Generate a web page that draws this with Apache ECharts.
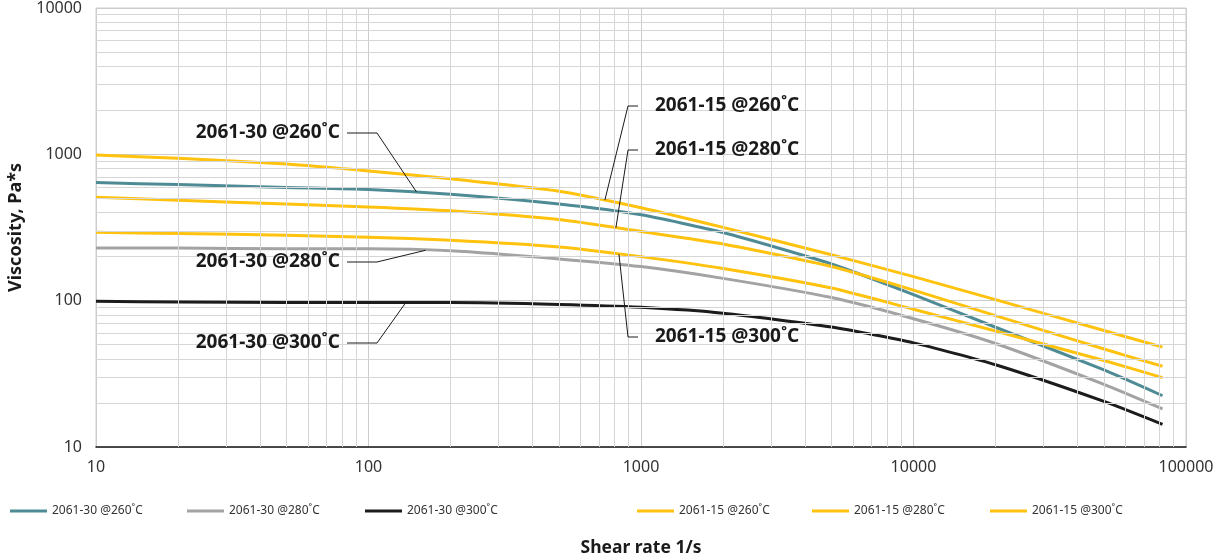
<!DOCTYPE html>
<html>
<head>
<meta charset="utf-8">
<script src="https://cdn.jsdelivr.net/npm/echarts@6/dist/echarts.min.js"></script>
<style>
html,body{margin:0;padding:0;background:#fff;}
#main{width:1221px;height:560px;}
</style>
</head>
<body>
<div id="main"></div>
<script>
// ---- data ----
const shearRate = [10, 20, 50, 100, 200, 500, 1000, 2000, 5000, 10000, 20000, 50000, 82000];
const visc30_260 = [641, 621, 593, 575, 533, 457, 386, 292, 178, 110, 65.8, 33.6, 22.4];
const visc30_280 = [229, 229, 226, 226, 219, 193, 171, 142, 105, 75.3, 51, 26.8, 18.2];
const visc30_300 = [99, 98, 97, 97, 97, 94.2, 90, 82, 66, 51.5, 36.5, 20.5, 14.3];
const visc15_260 = [990, 940, 858, 770, 681, 560, 432, 317, 206, 146, 101.6, 62.5, 48.1];
const visc15_280 = [509, 486, 457, 437, 411, 358, 297, 244, 171, 118, 79, 46.7, 35.6];
const visc15_300 = [293, 288, 280, 271, 259, 233, 200, 166, 122, 87.4, 62, 39, 29.8];
const seriesNames = ['2061-30 @260˚C', '2061-30 @280˚C', '2061-30 @300˚C',
                     '2061-15 @260˚C', '2061-15 @280˚C', '2061-15 @300˚C'];
const xTickLabels = [10, 100, 1000, 10000, 100000];
const yTickLabels = [10, 100, 1000, 10000];
const xAxisTitle = 'Shear rate 1/s';
const yAxisTitle = 'Viscosity, Pa*s';
// annotation: label text, the point on the curve the leader points to
const annotations = [
  {text: '2061-30 @260˚C', at: [150, 553], side: 'left', ty: 133},
  {text: '2061-30 @280˚C', at: [162, 221], side: 'left', ty: 262},
  {text: '2061-30 @300˚C', at: [137, 97], side: 'left', ty: 343},
  {text: '2061-15 @260˚C', at: [737, 487], side: 'right', ty: 106},
  {text: '2061-15 @280˚C', at: [809, 315], side: 'right', ty: 150},
  {text: '2061-15 @300˚C', at: [830, 208], side: 'right', ty: 337}
];

const colors = ['#4e8b94', '#a3a3a3', '#1c1c1c', '#ffc20e', '#ffc20e', '#ffc20e'];
const allValues = [visc30_260, visc30_280, visc30_300, visc15_260, visc15_280, visc15_300];
const legendLefts = [10, 187, 365, 637, 812, 990];
const FONT = '"Noto Sans", "Open Sans", sans-serif';

// minor grid lines (2..9 within each decade)
const minorX = [], minorY = [];
for (let d = 10; d < 100000; d *= 10) for (let k = 2; k <= 9; k++) minorX.push(d * k);
for (let d = 10; d < 10000; d *= 10) for (let k = 2; k <= 9; k++) minorY.push(d * k);

const chart = echarts.init(document.getElementById('main'));

const series = [{
  type: 'line', name: '__grid', data: [], z: 1, silent: true,
  markLine: {
    silent: true, symbol: ['none', 'none'], animation: false,
    label: {show: false},
    lineStyle: {color: '#d6d6d6', width: 1, type: 'solid'},
    emphasis: {disabled: true},
    data: minorX.map(v => ({xAxis: v})).concat(minorY.map(v => ({yAxis: v})))
  }
}];
seriesNames.forEach((n, i) => {
  series.push({
    type: 'line', name: n, z: 3,
    data: shearRate.map((s, j) => [s, allValues[i][j]]),
    showSymbol: false, symbol: 'none', smooth: 0.2,
    lineStyle: {color: colors[i], width: 3},
    itemStyle: {color: colors[i]},
    emphasis: {disabled: true}
  });
});

const fmt = v => String(Math.round(v));
const legends = seriesNames.map((n, i) => ({
  left: legendLefts[i], top: 505, padding: 0, itemWidth: 37, itemHeight: 3, itemGap: 0, icon: 'rect',
  selectedMode: false, data: [n],
  textStyle: {fontFamily: FONT, fontSize: 12, color: '#333'}
}));

chart.setOption({
  animation: false,
  backgroundColor: '#fff',
  grid: {left: 96, right: 35, top: 8, bottom: 113, show: true, borderColor: '#cfcfcf', borderWidth: 1,
         containLabel: false, outerBoundsMode: 'none'},
  legend: legends,
  xAxis: {
    type: 'log', logBase: 10, min: xTickLabels[0], max: xTickLabels[xTickLabels.length - 1],
    axisLine: {show: true, lineStyle: {color: '#1a1a1a', width: 1.5}},
    axisTick: {show: false},
    axisLabel: {fontFamily: FONT, fontSize: 16, color: '#333', margin: 12, formatter: fmt},
    splitLine: {show: true, lineStyle: {color: '#cccccc', width: 1}},
    name: xAxisTitle, nameLocation: 'middle', nameGap: 92,
    nameTextStyle: {fontFamily: FONT, fontWeight: 'bold', fontSize: 17.5, color: '#1a1a1a'}
  },
  yAxis: {
    type: 'log', logBase: 10, min: yTickLabels[0], max: yTickLabels[yTickLabels.length - 1],
    axisLine: {show: false},
    axisTick: {show: false},
    axisLabel: {fontFamily: FONT, fontSize: 16, color: '#333', margin: 14, formatter: fmt},
    splitLine: {show: true, lineStyle: {color: '#cccccc', width: 1}},
    name: yAxisTitle, nameLocation: 'middle', nameGap: 64, nameRotate: 90,
    nameTextStyle: {fontFamily: FONT, fontWeight: 'bold', fontSize: 18, color: '#1a1a1a'}
  },
  series: series
});

// annotations with leader lines
const graphics = [];
annotations.forEach(a => {
  const p = chart.convertToPixel({xAxisIndex: 0, yAxisIndex: 0}, a.at);
  let pts, tx, align;
  if (a.side === 'left') {
    pts = [[347, a.ty], [377, a.ty], p];
    tx = 340; align = 'right';
  } else {
    pts = [[638, a.ty], [628, a.ty], p];
    tx = 655; align = 'left';
  }
  graphics.push({
    type: 'polyline', z: 10, silent: true,
    shape: {points: pts},
    style: {stroke: '#1a1a1a', lineWidth: 1, fill: null}
  });
  graphics.push({
    type: 'text', z: 10, silent: true, x: tx, y: a.ty,
    style: {text: a.text, align: align, verticalAlign: 'middle',
            fontFamily: FONT, fontWeight: 'bold', fontSize: 19, fill: '#1a1a1a'}
  });
});
chart.setOption({graphic: graphics});
</script>
</body>
</html>
